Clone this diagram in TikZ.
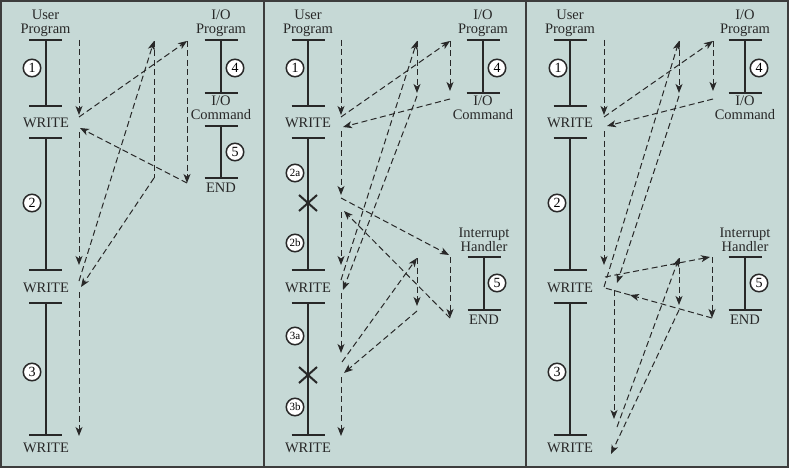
\documentclass[tikz,border=0pt]{standalone}
\usepackage{fontspec}
\setmainfont{Liberation Serif}
\usetikzlibrary{arrows.meta}
\usepackage{xcolor}

\definecolor{panelbg}{RGB}{198,217,214}
\definecolor{ink}{RGB}{40,40,40}

% program segment: vertical line with a tick at each end
\newcommand{\progbar}[3]{%
  \draw[bar] ({#1-16.5},#2) -- ({#1+16.5},#2) (#1,#2) -- (#1,#3) ({#1-16.5},#3) -- ({#1+16.5},#3);}
% interrupt point on a segment
\newcommand{\intmark}[2]{%
  \draw[bar] ({#1-9},{#2-8}) -- ({#1+9},{#2+8}) ({#1-9},{#2+8}) -- ({#1+9},{#2-8});}

\begin{document}
\begin{tikzpicture}[
        x=1pt, y=-1pt,
        >={Stealth[length=9pt,width=7pt,inset=2.5pt]},
        bar/.style={ink, line width=2pt},
        flow/.style={ink, line width=1pt, dash pattern=on 6pt off 3.5pt, ->},
        plainflow/.style={ink, line width=1pt, dash pattern=on 6pt off 3.5pt},
        lbl/.style={font=\fontsize{14.5}{14}\selectfont, text=ink, align=center, inner sep=0pt},
        num/.style={circle, draw=ink, fill=white, line width=1.5pt,
            minimum size=17.5pt, inner sep=0pt, font=\fontsize{14}{14}\selectfont},
        subnum/.style={num, font=\fontsize{11}{11}\selectfont},
        panel/.style={fill=panelbg, draw=ink!90, line width=2pt}
    ]
        \useasboundingbox (0,0) rectangle (789,468);
        % Three panels
        \draw[panel] (1,1) rectangle (263.5,467);
        \draw[panel] (263.5,1) rectangle (526,467);
        \draw[panel] (526,1) rectangle (788,467);

        % ---------- Panel 1: no interrupts ----------
        \progbar{45.5}{40}{106}
        \progbar{45.5}{138}{270}
        \progbar{45.5}{303}{435}
        \progbar{221}{40}{93}
        \progbar{221}{126}{178}
        \node[lbl] (user1) at (45.5,23.5) {User\\Program};
        \node[lbl] (iop1) at (221,23.5) {I/O\\Program};
        \node[lbl] (cmd1) at (221,108) {I/O\\Command};
        \node[lbl] (end1) at (221,188) {END};
        \node[lbl] (wr1a) at (46,123) {WRITE};
        \node[lbl] (wr1b) at (46,288) {WRITE};
        \node[lbl] (wr1c) at (46,448) {WRITE};
        \node[num] (n1a) at (32,68) {1};
        \node[num] (n1b) at (32,203) {2};
        \node[num] (n1c) at (32,372) {3};
        \node[num] (n1d) at (235,68) {4};
        \node[num] (n1e) at (235,152) {5};

        \coordinate (a1) at (79,40);   \coordinate (a2) at (79,115);
        \coordinate (a3) at (79,117);  \coordinate (a4) at (187,41);
        \coordinate (a5) at (187,183); \coordinate (a6) at (80,128);
        \coordinate (a7) at (79,132);  \coordinate (a8) at (79,265);
        \coordinate (a9) at (79,281);  \coordinate (a10) at (154,41);
        \coordinate (a11) at (154,178); \coordinate (a12) at (81,287);
        \coordinate (a13) at (79,292); \coordinate (a14) at (79,436);
        \draw[flow] (a1) -- (a2);
        \draw[flow] (a3) -- (a4);
        \draw[flow] (a4) -- (a5);
        \draw[flow] (a5) -- (a6);
        \draw[flow] (a7) -- (a8);
        \draw[flow] (a9) -- (a10);
        \draw[plainflow] (a10) -- (a11);
        \draw[flow] (a11) -- (a12);
        \draw[flow] (a13) -- (a14);

        % ---------- Panel 2: short I/O wait ----------
        \progbar{308}{40}{106}
        \progbar{308}{138}{270}
        \progbar{308}{303}{435}
        \progbar{483}{40}{93}
        \progbar{484}{257}{310}
        \intmark{308}{203}
        \intmark{308}{375}
        \node[lbl] (user2) at (308,23.5) {User\\Program};
        \node[lbl] (iop2) at (483,23.5) {I/O\\Program};
        \node[lbl] (cmd2) at (483,108) {I/O\\Command};
        \node[lbl] (ih2) at (484,239.5) {Interrupt\\Handler};
        \node[lbl] (end2) at (484,320) {END};
        \node[lbl] (wr2a) at (308,123) {WRITE};
        \node[lbl] (wr2b) at (308,288) {WRITE};
        \node[lbl] (wr2c) at (308,448) {WRITE};
        \node[num] (n2a) at (295,68) {1};
        \node[subnum] (n2b) at (295,173) {2a};
        \node[subnum] (n2c) at (295,243) {2b};
        \node[subnum] (n2d) at (295,336) {3a};
        \node[subnum] (n2e) at (295,407) {3b};
        \node[num] (n2f) at (497,68) {4};
        \node[num] (n2g) at (497,283) {5};

        \coordinate (b1) at (341,40);   \coordinate (b2) at (341,115);
        \coordinate (b3) at (341,117);  \coordinate (b4) at (450,41);
        \coordinate (b5) at (450,91);   \coordinate (b6) at (450,99);
        \coordinate (b7) at (343,127);  \coordinate (b8) at (341,131);
        \coordinate (b9) at (341,195);  \coordinate (b10) at (341,198);
        \coordinate (b11) at (449,255); \coordinate (b12) at (450,257);
        \coordinate (b13) at (450,318); \coordinate (b14) at (344,211);
        \coordinate (b15) at (341,212); \coordinate (b16) at (341,265);
        \coordinate (b17) at (341,280); \coordinate (b18) at (417,41);
        \coordinate (b19) at (417,93);  \coordinate (b20) at (417,96);
        \coordinate (b21) at (343,290); \coordinate (b22) at (341,293);
        \coordinate (b23) at (341,353); \coordinate (b24) at (342,362);
        \coordinate (b25) at (417,258); \coordinate (b26) at (417,306);
        \coordinate (b27) at (417,311); \coordinate (b28) at (344,373);
        \coordinate (b29) at (341,377); \coordinate (b30) at (341,436);
        \draw[flow] (b1) -- (b2);
        \draw[flow] (b3) -- (b4);
        \draw[flow] (b4) -- (b5);
        \draw[flow] (b6) -- (b7);
        \draw[flow] (b8) -- (b9);
        \draw[flow] (b10) -- (b11);
        \draw[flow] (b12) -- (b13);
        \draw[flow] (b13) -- (b14);
        \draw[flow] (b15) -- (b16);
        \draw[flow] (b17) -- (b18);
        \draw[flow] (b18) -- (b19);
        \draw[flow] (b20) -- (b21);
        \draw[flow] (b22) -- (b23);
        \draw[flow] (b24) -- (b25);
        \draw[flow] (b25) -- (b26);
        \draw[flow] (b27) -- (b28);
        \draw[flow] (b29) -- (b30);

        % ---------- Panel 3: long I/O wait ----------
        \progbar{570}{40}{106}
        \progbar{570}{138}{270}
        \progbar{570}{303}{435}
        \progbar{745}{40}{93}
        \progbar{745}{257}{310}
        \node[lbl] (user3) at (570,23.5) {User\\Program};
        \node[lbl] (iop3) at (745,23.5) {I/O\\Program};
        \node[lbl] (cmd3) at (745,108) {I/O\\Command};
        \node[lbl] (ih3) at (745,239.5) {Interrupt\\Handler};
        \node[lbl] (end3) at (745,320) {END};
        \node[lbl] (wr3a) at (570,123) {WRITE};
        \node[lbl] (wr3b) at (570,288) {WRITE};
        \node[lbl] (wr3c) at (570,448) {WRITE};
        \node[num] (n3a) at (558,68) {1};
        \node[num] (n3b) at (557,203) {2};
        \node[num] (n3c) at (557,372) {3};
        \node[num] (n3d) at (759,68) {4};
        \node[num] (n3e) at (759,283) {5};

        \coordinate (c1) at (604,40);   \coordinate (c2) at (604,115);
        \coordinate (c3) at (604,117);  \coordinate (c4) at (713,41);
        \coordinate (c5) at (713,91);   \coordinate (c6) at (713,99);
        \coordinate (c7) at (607,126);  \coordinate (c8) at (604,131);
        \coordinate (c9) at (604,265);  \coordinate (c10) at (605,277);
        \coordinate (c11) at (710,257); \coordinate (c12) at (712,257);
        \coordinate (c13) at (712,318); \coordinate (c14) at (630,295);
        \coordinate (c15) at (605,288); \coordinate (c16) at (604,287);
        \coordinate (c17) at (679,41);  \coordinate (c18) at (679,93);
        \coordinate (c19) at (679,96);  \coordinate (c20) at (617,283);
        \coordinate (c21) at (614,290); \coordinate (c22) at (614,419);
        \coordinate (c23) at (617,427); \coordinate (c24) at (679,258);
        \coordinate (c25) at (679,305); \coordinate (c26) at (679,310);
        \coordinate (c27) at (611,454);
        \draw[flow] (c1) -- (c2);
        \draw[flow] (c3) -- (c4);
        \draw[flow] (c4) -- (c5);
        \draw[flow] (c6) -- (c7);
        \draw[flow] (c8) -- (c9);
        \draw[flow] (c10) -- (c11);
        \draw[flow] (c12) -- (c13);
        \draw[flow] (c13) -- (c14);
        \draw[plainflow] (c14) -- (c15);
        \draw[flow] (c16) -- (c17);
        \draw[flow] (c17) -- (c18);
        \draw[flow] (c19) -- (c20);
        \draw[flow] (c21) -- (c22);
        \draw[flow] (c23) -- (c24);
        \draw[flow] (c24) -- (c25);
        \draw[flow] (c26) -- (c27);
    \end{tikzpicture}
\end{document}
